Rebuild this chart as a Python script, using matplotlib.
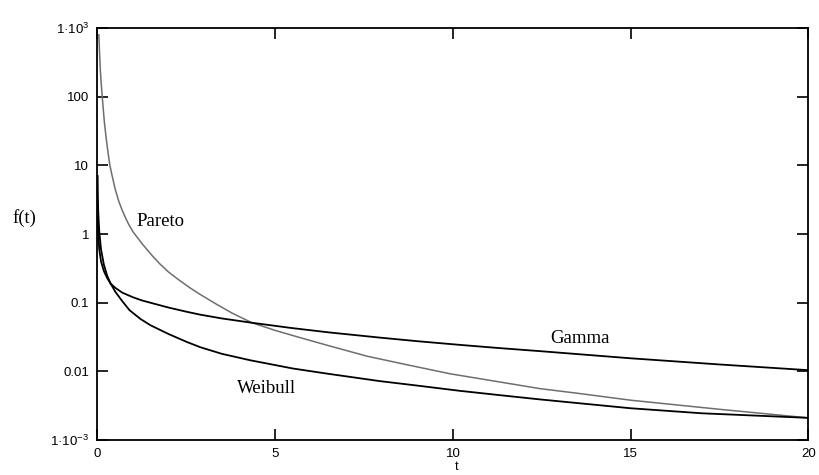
import matplotlib
matplotlib.use("Agg")
import matplotlib.pyplot as plt

plt.rcParams["mathtext.fontset"] = "custom"
plt.rcParams["mathtext.rm"] = "Liberation Sans"
plt.rcParams["mathtext.it"] = "Liberation Sans"
plt.rcParams["mathtext.bf"] = "Liberation Sans"

# values
pareto_t = [0.04, 0.06, 0.08, 0.1, 0.135, 0.17, 0.2, 0.25, 0.3, 0.35, 0.42,
            0.5, 0.6, 0.7, 0.8, 0.88, 1.0, 1.13, 1.26, 1.4, 1.54, 1.75, 2.0,
            2.29, 2.6, 2.89, 3.32, 3.8, 4.35, 5.0, 5.7, 6.5, 7.59, 8.7, 9.93,
            11.32, 12.45, 13.5, 15.0, 17.5, 20.0]
pareto_f = [800, 420, 250, 170, 100, 60, 40, 24, 15, 10, 6.8,
            4.5, 3.0, 2.2, 1.68, 1.38, 1.08, 0.88, 0.72, 0.59, 0.485, 0.37,
            0.28, 0.215, 0.165, 0.132, 0.097, 0.07, 0.051, 0.0395, 0.031,
            0.0237, 0.0166, 0.0125, 0.0092, 0.007, 0.0056, 0.0048, 0.0038,
            0.0028, 0.0021]

gamma_t = [0.005, 0.02, 0.05, 0.1, 0.18, 0.27, 0.37, 0.5, 0.7, 1.0, 1.25,
           1.49, 2.0, 2.5, 2.89, 3.5, 4.35, 5.43, 6.5, 7.95, 9.0, 10.2, 11.32,
           12.45, 15.0, 17.5, 20.0]
gamma_f = [1.8, 1.0, 0.6, 0.4, 0.29, 0.23, 0.19, 0.165, 0.14, 0.12, 0.108,
           0.10, 0.085, 0.074, 0.067, 0.059, 0.051, 0.043, 0.037, 0.031, 0.0275,
           0.0243, 0.0218, 0.0197, 0.0155, 0.0126, 0.0104]

weibull_t = [0.005, 0.01, 0.02, 0.05, 0.1, 0.18, 0.27, 0.37, 0.5, 0.7, 0.9,
             1.21, 1.49, 2.0, 2.5, 2.89, 3.5, 4.3, 5.5, 6.5, 7.95, 9.0, 10.2,
             11.32, 12.45, 15.0, 17.0, 20.0]
weibull_f = [7.0, 4.0, 2.2, 1.1, 0.6, 0.36, 0.25, 0.19, 0.145, 0.105, 0.078,
             0.058, 0.047, 0.035, 0.027, 0.0225, 0.018, 0.0145, 0.011, 0.0092,
             0.0072, 0.0062, 0.0052, 0.0045, 0.0039, 0.0029, 0.00245, 0.0021]

y_ticks = [1e-3, 1e-2, 1e-1, 1, 10, 100, 1e3]
y_labels = ["1\u00b710$^{-3}$", "0.01", "0.1", "1", "10", "100", "1\u00b710$^{3}$"]
x_ticks = [0, 5, 10, 15, 20]

fig = plt.figure(figsize=(8.19, 4.75), dpi=100)
ax = fig.add_axes([0.119, 0.0737, 0.868, 0.867])

ax.plot(pareto_t, pareto_f, color="#6e6e6e", lw=1.1)
ax.plot(gamma_t, gamma_f, color="black", lw=1.3)
ax.plot(weibull_t, weibull_f, color="black", lw=1.3)

ax.set_yscale("log")
ax.set_xlim(0, 20)
ax.set_ylim(1e-3, 1e3)
ax.set_yticks(y_ticks)
ax.set_yticklabels(y_labels)
ax.set_xticks(x_ticks)
ax.minorticks_off()
ax.tick_params(direction="in", length=8, width=1.2, top=True, right=True,
               labeltop=False, labelright=False, labelsize=9.5, pad=6)
for lbl in ax.get_xticklabels() + ax.get_yticklabels():
    lbl.set_family("Liberation Sans")
for sp in ax.spines.values():
    sp.set_linewidth(1.3)

serif = dict(family="Liberation Serif", fontsize=13.5)
ax.text(1.11, 1.5, "Pareto", va="center", ha="left", **serif)
ax.text(12.73, 0.0305, "Gamma", va="center", ha="left", **serif)
ax.text(3.92, 0.0057, "Weibull", va="center", ha="left", **serif)

fig.text(12 / 819, 1 - 218 / 475, "f(t)", va="center", ha="left", **serif)
fig.text(457 / 819, 1 - 467 / 475, "t", va="center", ha="center",
         family="Liberation Sans", fontsize=9)

fig.savefig("out.png", dpi=100)
